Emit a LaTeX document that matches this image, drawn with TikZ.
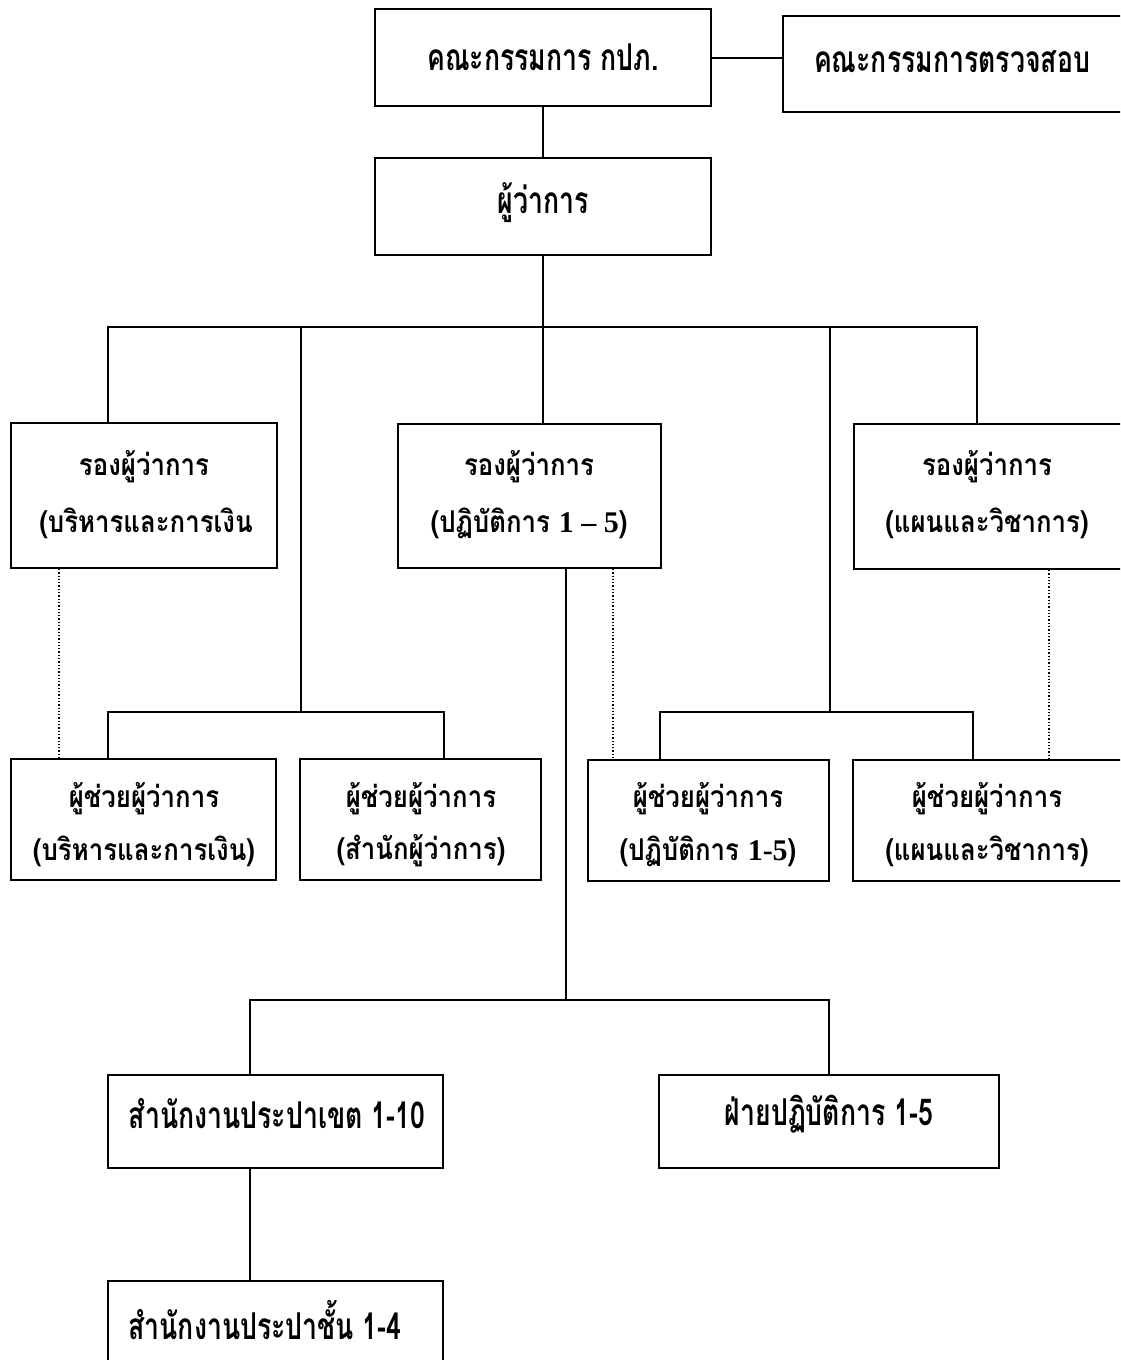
\documentclass[tikz,border=0pt]{standalone}
\usepackage{fontspec}
\newfontfamily\thaiA[Script=Thai,FakeStretch=0.72]{Loma}
\newfontfamily\thaiB[Script=Thai,FakeStretch=0.86]{Loma}
\newfontfamily\numfont{Liberation Serif}
\begin{document}
\begin{tikzpicture}[x=1pt,y=-1pt,
  box/.style={draw,line width=1.8pt,inner sep=0pt},
  lbl/.style={inner sep=0pt,font=\thaiB\bfseries\fontsize{30}{33}\selectfont},
  lblc/.style={inner sep=0pt,font=\thaiA\bfseries\fontsize{37}{40}\selectfont},
  conn/.style={line width=1.3pt},
  dots/.style={line width=1.3pt,dotted}]
\useasboundingbox (0,0) rectangle (1120,1360);
\clip (0,0) rectangle (1120,1360);
% helper: box from corners
\newcommand{\bx}[5]{\node[box,minimum width={#4-#2},minimum height={#5-#3}] (#1) at ({(#2+#4)/2},{(#3+#5)/2}) {};}
\bx{A}{375}{9}{711}{106}
\bx{B}{783}{16}{1130}{112}
\bx{G}{375}{158}{711}{255}
\bx{L1}{11}{423}{277}{568}
\bx{C1}{398}{424}{661}{568}
\bx{R1}{854}{424}{1130}{569}
\bx{L2a}{11}{759}{276}{880}
\bx{L2b}{300}{759}{541}{880}
\bx{R2a}{588}{760}{829}{881}
\bx{R2b}{853}{760}{1130}{881}
\bx{D1}{108}{1075}{443}{1168}
\bx{D2}{659}{1075}{999}{1168}
\bx{D3}{108}{1281}{443}{1380}
% labels
\node[lblc] (tA) at (543,57) {คณะกรรมการ กปภ.};
\node[lblc] (tB) at (952,62) {คณะกรรมการตรวจสอบ};
\node[lblc] (tG) at (543,203) {ผู้ว่าการ};
\node[lbl] (tL1a) at (144,467) {รองผู้ว่าการ};
\node[lbl] (tL1b) at (146,523) {(บริหารและการเงิน};
\node[lbl] (tC1a) at (529,467) {รองผู้ว่าการ};
\node[lbl] (tC1b) at (529,523) {(ปฏิบัติการ {\numfont\bfseries 1 – 5})};
\node[lbl] (tR1a) at (987,467) {รองผู้ว่าการ};
\node[lbl] (tR1b) at (987,523) {(แผนและวิชาการ)};
\node[lbl] (tL2a1) at (144,799) {ผู้ช่วยผู้ว่าการ};
\node[lbl] (tL2a2) at (144,851) {(บริหารและการเงิน)};
\node[lbl] (tL2b1) at (421,799) {ผู้ช่วยผู้ว่าการ};
\node[lbl] (tL2b2) at (421,851) {(สำนักผู้ว่าการ)};
\node[lbl] (tR2a1) at (708,799) {ผู้ช่วยผู้ว่าการ};
\node[lbl] (tR2a2) at (708,851) {(ปฏิบัติการ {\numfont\bfseries 1-5})};
\node[lbl] (tR2b1) at (987,799) {ผู้ช่วยผู้ว่าการ};
\node[lbl] (tR2b2) at (987,851) {(แผนและวิชาการ)};
\node[lblc] (tD1) at (277,1114) {สำนักงานประปาเขต 1-10};
\node[lblc] (tD2) at (829,1114) {ฝ่ายปฏิบัติการ 1-5};
\node[lblc] (tD3) at (265,1320) {สำนักงานประปาชั้น 1-4};
% junction coordinates
\coordinate (busL) at (108,327);
\coordinate (busR) at (977,327);
\coordinate (bus1) at (301,327);
\coordinate (bus2) at (543,327);
\coordinate (bus3) at (830,327);
\coordinate (sl) at (301,712);
\coordinate (sr) at (830,712);
\coordinate (m) at (566,1000);
% connectors
\draw[conn] (A.east |- 0,58) -- (B.west |- 0,58);
\draw[conn] (A.south) -- (G.north);
\draw[conn] (G.south) -- (bus2);
\draw[conn] (L1.north -| busL) -- (busL) -- (busR) -- (R1.north -| busR);
\draw[conn] (bus2) -- (C1.north -| bus2);
\draw[conn] (bus1) -- (sl);
\draw[conn] (bus3) -- (sr);
\draw[conn] (L2a.north -| 108,0) |- (sl) -| (L2b.north -| 444,0);
\draw[conn] (R2a.north -| 660,0) |- (sr) -| (R2b.north -| 973,0);
\draw[conn] (C1.south -| m) -- (m);
\draw[conn] (D1.north -| 250,0) |- (m) -| (D2.north -| 829,0);
\draw[conn] (D1.south -| 250,0) -- (D3.north -| 250,0);
\draw[dots] (L1.south -| 59,0) -- (L2a.north -| 59,0);
\draw[dots] (C1.south -| 613,0) -- (R2a.north -| 613,0);
\draw[dots] (R1.south -| 1049,0) -- (R2b.north -| 1049,0);
\end{tikzpicture}
\end{document}
